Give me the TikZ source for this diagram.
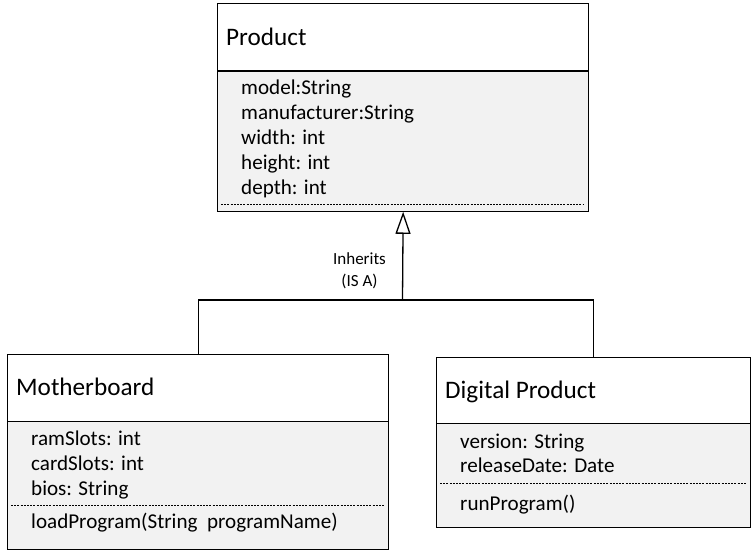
\documentclass[tikz,border=0pt]{standalone}
\usepackage{fontspec}
\setmainfont{Carlito}
\usetikzlibrary{arrows.meta}
\definecolor{attrfill}{HTML}{F2F2F2}
\begin{document}
\begin{tikzpicture}[x=1pt,y=-1pt,
  box/.style={draw=black,line width=1.3pt,rectangle,inner sep=0pt,anchor=north west},
  hdr/.style={box,fill=white},
  body/.style={box,fill=attrfill},
  title/.style={anchor=base west,inner sep=0pt,font=\fontsize{25.2}{30}\selectfont},
  attr/.style={anchor=base west,inner sep=0pt,font=\fontsize{21.1}{25}\selectfont},
  sep/.style={line width=0.7pt,dash pattern=on 2pt off 1.2pt},
  lbl/.style={align=center,inner sep=0pt,font=\fontsize{17}{22}\selectfont},
  line/.style={line width=1.3pt}
]
\useasboundingbox (0,0) rectangle (751,556);
% Product
\node[hdr,minimum width=371pt,minimum height=67.5pt] (ph) at (217,3) {};
\node[body,minimum width=371pt,minimum height=140pt] (pb) at (217,70.5) {};
\node[title] (pt) at (226,45.5) {Product};
\node[attr] (pa1) at (241,94.5) {model:String};
\node[attr] (pa2) at (241,119.5) {manufacturer:String};
\node[attr] (pa3) at (241,144.5) {width: int};
\node[attr] (pa4) at (241,169.5) {height: int};
\node[attr] (pa5) at (241,194.5) {depth: int};
\draw[sep] (221,204) -- (584,204);
% Motherboard
\node[hdr,minimum width=381pt,minimum height=67pt] (mh) at (7,354) {};
\node[body,minimum width=381pt,minimum height=127.5pt] (mb) at (7,421) {};
\node[title] (mt) at (16,395.5) {Motherboard};
\node[attr] (ma1) at (31,445.5) {ramSlots: int};
\node[attr] (ma2) at (31,470.5) {cardSlots: int};
\node[attr] (ma3) at (31,495.5) {bios: String};
\draw[sep] (11,505.5) -- (384,505.5);
\node[attr] (mm1) at (31,528.5) {loadProgram(String\ \ programName)};
% Digital Product
\node[hdr,minimum width=314pt,minimum height=66pt] (dh) at (436,357) {};
\node[body,minimum width=314pt,minimum height=104pt] (db) at (436,423) {};
\node[title] (dt) at (445,398.5) {Digital Product};
\node[attr] (da1) at (460,448.5) {version: String};
\node[attr] (da2) at (460,472.5) {releaseDate: Date};
\draw[sep] (440,483) -- (746,483);
\node[attr] (dm1) at (460,510.5) {runProgram()};
% connectors
\coordinate (j) at (402.5,300);
\draw[line] (mh.north) |- (j) -| (dh.north);
\draw[line,-{Triangle[open,length=22pt,width=15pt,line width=1.3pt]}] (j) -- (pb.south);
\node[lbl] (inh) at (359.5,271) {Inherits\\(IS A)};
\end{tikzpicture}
\end{document}
